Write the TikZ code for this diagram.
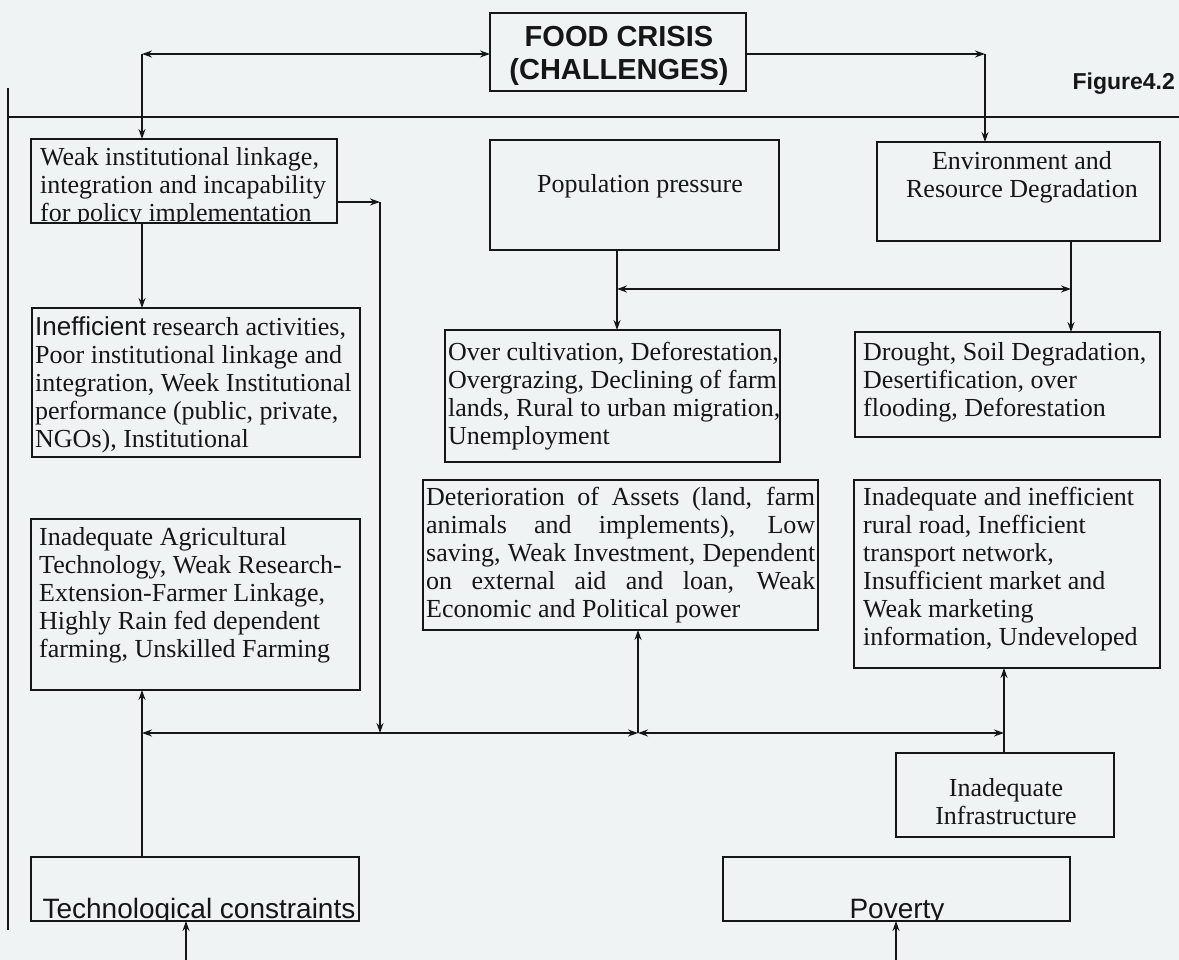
\documentclass[tikz,border=0pt]{standalone}
\usepackage{fontspec}
\setmainfont{Liberation Serif}
\newfontfamily\arialf{Liberation Sans}
\usetikzlibrary{arrows.meta,fit}

\definecolor{paper}{RGB}{240,243,243}
\definecolor{ink}{RGB}{22,22,22}

% Multi-line text nodes are placed by the baseline of their last line.
\tikzset{
  frame/.style={draw=ink, line width=2pt, inner sep=0pt, outer sep=0pt},
  link/.style={draw=ink, line width=1.5pt},
  tip/.style={-{Stealth[length=10pt,width=7pt]}},
  dbl/.style={{Stealth[length=10pt,width=7pt]}-{Stealth[length=10pt,width=7pt]}},
  body/.style={inner sep=0pt, align=left, text=ink, font=\fontsize{26}{28}\selectfont},
  sans/.style={inner sep=0pt, text=ink, font=\arialf\fontsize{28}{32}\selectfont},
}

\begin{document}
\begin{tikzpicture}[x=1pt,y=-1pt]
\useasboundingbox (0,0) rectangle (1179,960);
\fill[paper] (0,0) rectangle (1179,960);

% ---------- boxes ----------
\node[frame, fit={(490,13) (746,91)}] (food) {};
\node[align=center, inner sep=0pt, text=ink, font=\arialf\bfseries\fontsize{29}{33}\selectfont, anchor=base] (food-text) at (619,80) {FOOD CRISIS\\(CHALLENGES)};
\node[inner sep=0pt, text=ink, font=\arialf\bfseries\fontsize{23}{27}\selectfont, anchor=base east] (fig) at (1175,90) {Figure4.2};

\node[frame, fit={(31,139) (337,223)}] (weak) {};
\begin{scope}
  \clip (31,139) rectangle (337,223);
  \node[body, anchor=base west] (weak-text) at (40,222) {Weak institutional linkage,\\integration and incapability\\for policy implementation};
\end{scope}

\node[frame, fit={(490,140) (779,250)}] (pop) {};
\node[body, anchor=base] (pop-text) at (640,193) {Population pressure};

\node[frame, fit={(877,142) (1160,241)}] (env) {};
\node[body, align=center, anchor=base] (env-text) at (1022,198) {Environment and\\Resource Degradation};

\node[frame, fit={(32,308) (360,457)}] (ineff) {};
\begin{scope}
  \clip (32,308) rectangle (360,457);
  \node[body, anchor=base west] (ineff-text) at (35,447) {{\arialf Inefficient} research activities,\\Poor institutional linkage and\\integration, Week Institutional\\performance (public, private,\\NGOs), Institutional};
\end{scope}

\node[frame, fit={(445,330) (780,462)}] (over) {};
\node[body, anchor=base west] (over-text) at (448,444) {Over cultivation, Deforestation,\\Overgrazing, Declining of farm\\lands, Rural to urban migration,\\Unemployment};

\node[frame, fit={(855,332) (1160,437)}] (drought) {};
\node[body, anchor=base west] (drought-text) at (863,416) {Drought, Soil Degradation,\\Desertification, over\\flooding, Deforestation};

\node[frame, fit={(423,480) (818,630)}] (deter) {};
\node[body, anchor=base west] (deter-text) at (426,617) {%
  \makebox[389pt][s]{Deterioration of Assets (land, farm}\\
  \makebox[389pt][s]{animals and implements), Low}\\
  \makebox[389pt][s]{saving, Weak Investment, Dependent}\\
  \makebox[389pt][s]{on external aid and loan, Weak}\\
  Economic and Political power};

\node[frame, fit={(31,519) (360,690)}] (agri) {};
\node[body, anchor=base west] (agri-text) at (39,657) {Inadequate Agricultural\\Technology, Weak Research-\\Extension-Farmer Linkage,\\Highly Rain fed dependent\\farming, Unskilled Farming};

\node[frame, fit={(854,480) (1160,668)}] (rural) {};
\node[body, anchor=base west] (rural-text) at (863,645) {Inadequate and inefficient\\rural road, Inefficient\\transport network,\\Insufficient market and\\Weak marketing\\information, Undeveloped};

\node[frame, fit={(896,753) (1114,837)}] (infra) {};
\node[body, align=center, anchor=base] (infra-text) at (1006,824) {Inadequate\\Infrastructure};

\node[frame, fit={(31,857) (359,921)}] (tech) {};
\begin{scope}
  \clip (31,857) rectangle (359,921);
  \node[sans, anchor=base] (tech-text) at (199,918) {Technological constraints};
\end{scope}

\node[frame, fit={(723,857) (1070,921)}] (pov) {};
\begin{scope}
  \clip (723,857) rectangle (1070,921);
  \node[sans, anchor=base] (pov-text) at (897,918) {Poverty};
\end{scope}

% ---------- rules ----------
\coordinate (ruleL) at (8,117);
\coordinate (ruleR) at (1179,117);
\coordinate (edgeT) at (8,88);
\coordinate (edgeB) at (8,930);
\draw[link] (ruleL) -- (ruleR);
\draw[link] (edgeT) -- (edgeB);

% ---------- connectors ----------
\coordinate (tl) at (142,54);
\coordinate (tr) at (985,54);
\draw[link, dbl] (tl) -- (food.west |- tl);
\draw[link, tip] (tl) -- (tl |- weak.north);
\draw[link, tip] (food.east |- tr) -- (tr);
\draw[link, tip] (tr) -- (tr |- env.north);

\draw[link, tip] (weak.south -| tl) -- (tl |- ineff.north);

\coordinate (wr) at (380,202);
\coordinate (bus) at (380,733);
\draw[link, tip] (weak.east |- wr) -- (wr);
\draw[link, tip] (wr) -- (bus);

\coordinate (pm) at (617,289);
\coordinate (em) at (1071,289);
\draw[link, tip] (pop.south -| pm) -- (pm |- over.north);
\draw[link, tip] (env.south -| em) -- (em |- drought.north);
\draw[link, dbl] (pm) -- (em);

\coordinate (bL) at (142,733);
\coordinate (bM) at (638,733);
\coordinate (bR) at (1004,733);
\draw[link, dbl] (bL) -- (bM);
\draw[link, dbl] (bM) -- (bR);
\draw[link, tip] (tech.north -| bL) -- (bL |- agri.south);
\draw[link, tip] (bM) -- (bM |- deter.south);
\draw[link, tip] (infra.north -| bR) -- (bR |- rural.south);

\coordinate (techIn) at (186,960);
\coordinate (povIn) at (896,960);
\draw[link, tip] (techIn) -- (techIn |- tech.south);
\draw[link, tip] (povIn) -- (povIn |- pov.south);
\end{tikzpicture}
\end{document}
